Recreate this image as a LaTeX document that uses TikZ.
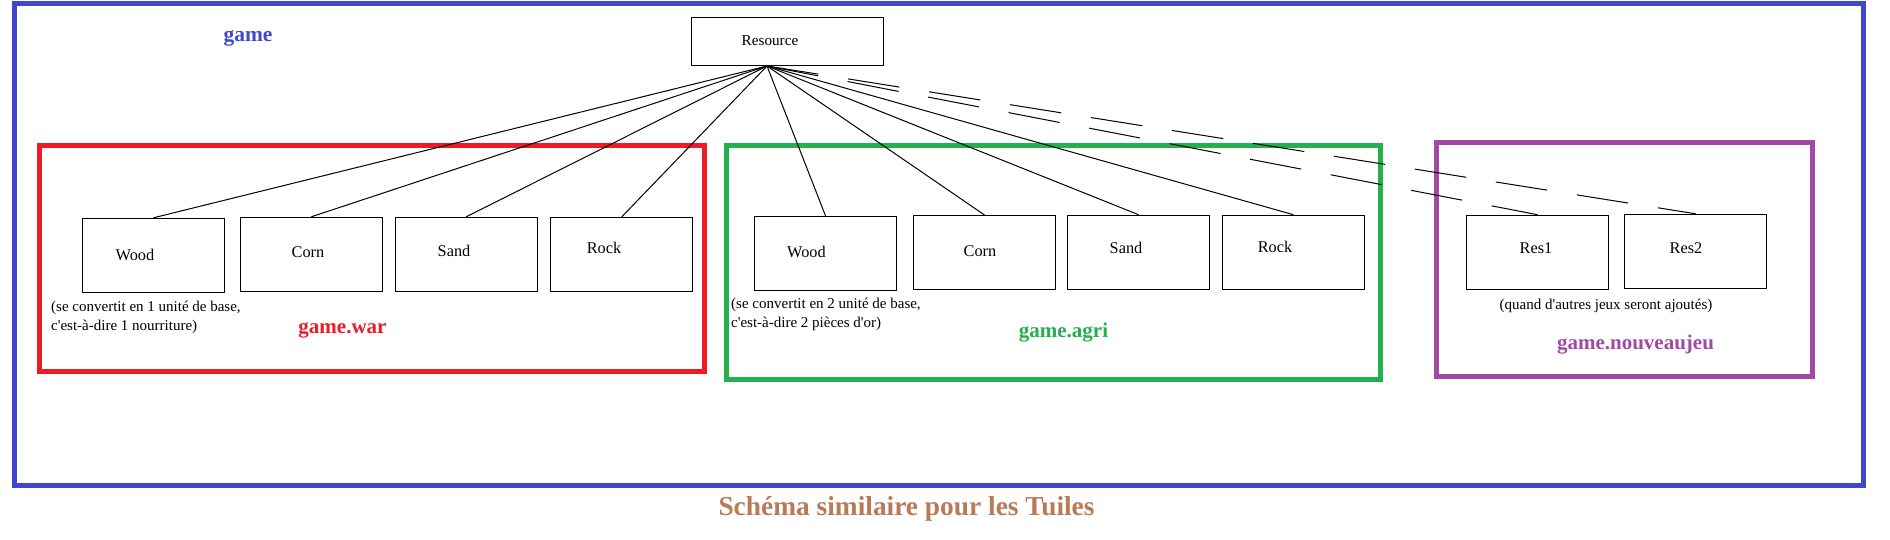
\documentclass[tikz,border=0pt]{standalone}
\usepackage{fontspec}
\setmainfont{Liberation Serif}[Ligatures=TeXOff]
\usepackage{tikz}
\definecolor{gamecol}{HTML}{3F48CC}
\definecolor{warcol}{HTML}{ED1C24}
\definecolor{agricol}{HTML}{22B14C}
\definecolor{newcol}{HTML}{A349A4}
\definecolor{tilecol}{HTML}{B97A57}
\tikzset{
  frame/.style={line width=5pt},
  tile/.style={draw, line width=1pt, minimum width=142pt, minimum height=74pt, inner sep=0pt},
  tilelbl/.style={inner sep=0pt, anchor=base, font=\fontsize{16.3}{19}\selectfont},
  note/.style={inner sep=0pt, align=left, font=\fontsize{15}{19}\selectfont},
  pkg/.style={inner sep=0pt, anchor=base, font=\fontsize{21}{25}\selectfont\bfseries},
  link/.style={line width=1pt},
  futurelink/.style={line width=1pt, dash pattern=on 52pt off 30pt}
}

\begin{document}
\begin{tikzpicture}
                \tikzset{x={(1pt, 0pt)}, y={(0pt, -1pt)}}
                \useasboundingbox (0, 0) rectangle (1890, 540);
                \draw[frame, gamecol] (14, 3.5) rectangle (1863.5, 485);
                \draw[frame, warcol] (39, 145.5) rectangle (704, 371);
                \draw[frame, agricol] (726.5, 145.3) rectangle (1380.5, 379.3);
                \draw[frame, newcol] (1436.5, 142.5) rectangle (1812.5, 376.5);
                \node[tile, minimum width=192pt, minimum height=48pt] (res) at (787, 42) {};
                \node[tilelbl, font=\fontsize{15.2}{18}\selectfont] (res-t) at (770, 46) {Resource};
                \coordinate (hub) at (767, 66);
                \node[tile] (ww) at ( 153.5, 255.3) {};
                \node[tile] (wc) at ( 311.3, 254.3) {};
                \node[tile] (ws) at ( 466.2, 254.3) {};
                \node[tile] (wr) at ( 621.8, 254.3) {};
                \node[tile] (aw) at ( 825.5, 253.3) {};
                \node[tile] (ac) at ( 984.5, 252.5) {};
                \node[tile] (as) at (1138.5, 252.2) {};
                \node[tile] (ar) at (1293.4, 252.2) {};
                \node[tile] (ra) at (1537.5, 252.2) {};
                \node[tile] (rb) at (1695.7, 251.3) {};
                \node[tilelbl] (ww-t) at ( 135.0, 260) {Wood};
                \node[tilelbl] (wc-t) at ( 308.0, 258) {Corn};
                \node[tilelbl] (ws-t) at ( 454.0, 256) {Sand};
                \node[tilelbl] (wr-t) at ( 604.0, 254) {Rock};
                \node[tilelbl] (aw-t) at ( 806.5, 257) {Wood};
                \node[tilelbl] (ac-t) at ( 980.0, 256) {Corn};
                \node[tilelbl] (as-t) at (1126.0, 254) {Sand};
                \node[tilelbl] (ar-t) at (1275.0, 252) {Rock};
                \node[tilelbl] (ra-t) at (1536.0, 254) {Res1};
                \node[tilelbl] (rb-t) at (1686.0, 253) {Res2};
                \foreach \t in {ww, wc, ws, wr, aw, ac, as, ar}
                    \draw[link] (hub) -- (\t.north);
                \foreach \t in {ra, rb}
                    \draw[futurelink] (hub) -- (\t.north);
                \node[note, anchor=north west] (war-note) at (51, 301) {(se convertit en 1 unité de base,\\c'est-à-dire 1 nourriture)};
                \node[note, anchor=north west] (agri-note) at (731, 298) {(se convertit en 2 unité de base,\\c'est-à-dire 2 pièces d'or)};
                \node[note, anchor=base] (new-note) at (1606, 309.5) {(quand d'autres jeux seront ajoutés)};
                \node[pkg, gamecol, font=\fontsize{21.5}{25}\selectfont\bfseries] (game) at (248, 42) {game};
                \node[pkg, warcol] (war) at (342.5, 333) {game.war};
                \node[pkg, agricol] (agri) at (1063.5, 337) {game.agri};
                \node[pkg, newcol] (new) at (1635.5, 349) {game.nouveaujeu};
                \node[pkg, tilecol, font=\fontsize{27.4}{32}\selectfont\bfseries] (tiles) at (906.5, 515) {Schéma similaire pour les Tuiles};
            \end{tikzpicture}
\end{document}
